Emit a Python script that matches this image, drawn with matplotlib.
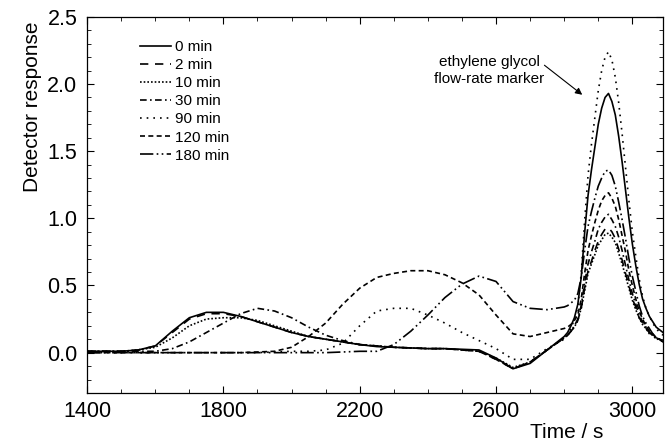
import numpy as np
import matplotlib
matplotlib.use("Agg")
import matplotlib.pyplot as plt
from matplotlib.ticker import MultipleLocator

plt.rcParams['font.family'] = ['Liberation Sans', 'DejaVu Sans']

# time grid: coarse before the marker peak, fine across it
time_s = np.concatenate([np.arange(1400, 2800, 50), np.arange(2800, 3100, 10)])

labels = ["0 min", "2 min", "10 min", "30 min", "90 min", "120 min", "180 min"]

r_0 = [0.01, 0.01, 0.01, 0.02, 0.05, 0.16, 0.26, 0.30, 0.30, 0.27, 0.23, 0.19, 0.15, 0.12,
       0.10, 0.08, 0.06, 0.045, 0.04, 0.035, 0.03, 0.03, 0.025, 0.02, -0.04, -0.12, -0.08, 0.02,
       0.12, 0.15, 0.20, 0.26, 0.36, 0.56, 0.89, 1.17, 1.36, 1.53, 1.70, 1.82, 1.90, 1.93, 1.87,
       1.77, 1.61, 1.42, 1.21, 1.00, 0.81, 0.65, 0.51, 0.40, 0.33, 0.27, 0.23, 0.19, 0.17, 0.15]
r_2 = [0.01, 0.01, 0.01, 0.02, 0.05, 0.15, 0.25, 0.29, 0.29, 0.27, 0.23, 0.19, 0.15, 0.12,
       0.10, 0.08, 0.06, 0.05, 0.04, 0.035, 0.03, 0.03, 0.02, 0.01, -0.05, -0.12, -0.07, 0.02,
       0.11, 0.13, 0.16, 0.19, 0.24, 0.33, 0.48, 0.61, 0.68, 0.76, 0.83, 0.88, 0.92, 0.93, 0.90,
       0.85, 0.77, 0.69, 0.59, 0.50, 0.40, 0.34, 0.26, 0.22, 0.18, 0.15, 0.13, 0.11, 0.10, 0.08]
r_10 = [0.01, 0.01, 0.01, 0.02, 0.04, 0.11, 0.20, 0.25, 0.26, 0.26, 0.24, 0.20, 0.16, 0.12,
        0.10, 0.08, 0.06, 0.05, 0.04, 0.035, 0.03, 0.03, 0.02, 0.01, -0.04, -0.11, -0.07, 0.02,
        0.11, 0.13, 0.16, 0.19, 0.24, 0.33, 0.46, 0.59, 0.66, 0.73, 0.80, 0.84, 0.88, 0.89, 0.86,
        0.82, 0.74, 0.66, 0.57, 0.48, 0.39, 0.32, 0.26, 0.21, 0.18, 0.14, 0.13, 0.10, 0.10, 0.08]
r_30 = [0.01, 0.01, 0.01, 0.01, 0.01, 0.03, 0.08, 0.15, 0.22, 0.29, 0.33, 0.31, 0.26, 0.19,
        0.13, 0.09, 0.06, 0.05, 0.04, 0.035, 0.03, 0.03, 0.02, 0.01, -0.05, -0.12, -0.07, 0.02,
        0.11, 0.13, 0.16, 0.20, 0.25, 0.35, 0.52, 0.66, 0.75, 0.83, 0.92, 0.97, 1.01, 1.03, 0.99,
        0.94, 0.86, 0.76, 0.65, 0.54, 0.44, 0.36, 0.28, 0.23, 0.19, 0.15, 0.13, 0.11, 0.10, 0.08]
r_90 = [0.0, 0.0, 0.0, 0.0, 0.0, 0.0, 0.0, 0.0, 0.0, 0.0, 0.0, 0.005, 0.01, 0.01,
        0.02, 0.07, 0.20, 0.31, 0.33, 0.33, 0.28, 0.22, 0.15, 0.09, 0.03, -0.05, -0.05, 0.03,
        0.10, 0.13, 0.18, 0.25, 0.34, 0.59, 0.98, 1.32, 1.55, 1.75, 1.95, 2.10, 2.20, 2.24, 2.18,
        2.05, 1.86, 1.63, 1.38, 1.13, 0.90, 0.72, 0.55, 0.42, 0.33, 0.27, 0.22, 0.18, 0.15, 0.13]
r_120 = [0.0, 0.0, 0.0, 0.0, 0.0, 0.0, 0.0, 0.0, 0.0, 0.0, 0.005, 0.01, 0.04, 0.12,
         0.22, 0.36, 0.48, 0.56, 0.59, 0.61, 0.61, 0.58, 0.52, 0.43, 0.28, 0.14, 0.12, 0.15,
         0.18, 0.19, 0.21, 0.24, 0.28, 0.40, 0.59, 0.76, 0.87, 0.97, 1.06, 1.13, 1.17, 1.19, 1.15,
         1.09, 0.99, 0.87, 0.75, 0.61, 0.50, 0.40, 0.31, 0.25, 0.20, 0.16, 0.14, 0.11, 0.10, 0.08]
r_180 = [0.0, 0.0, 0.0, 0.0, 0.0, 0.0, 0.0, 0.0, 0.0, 0.0, 0.0, 0.0, 0.0, 0.0,
         0.0, 0.005, 0.01, 0.01, 0.06, 0.16, 0.28, 0.41, 0.51, 0.57, 0.53, 0.38, 0.33, 0.32,
         0.34, 0.35, 0.37, 0.39, 0.44, 0.56, 0.76, 0.94, 1.05, 1.15, 1.24, 1.30, 1.35, 1.36, 1.32,
         1.24, 1.12, 0.99, 0.85, 0.70, 0.57, 0.46, 0.35, 0.27, 0.22, 0.18, 0.14, 0.11, 0.10, 0.08]

x_ticks = [1400, 1800, 2200, 2600, 3000]

series = [r_0, r_2, r_10, r_30, r_90, r_120, r_180]
dash_styles = ["-", (0, (5, 4)), (0, (1, 1.2)), (0, (4, 2, 1, 2)), (0, (1, 3)),
               (0, (3, 2)), (0, (8, 2, 1, 2, 1, 2))]

fig, ax = plt.subplots(figsize=(6.65, 4.44), dpi=100)
fig.subplots_adjust(left=0.131, right=0.997, bottom=0.115, top=0.962)

for lab, vals, ls in zip(labels, series, dash_styles):
    ax.plot(time_s, vals, color="black", lw=1.2, linestyle=ls, label=lab)

ax.set_xlim(1400, 3090)
ax.set_ylim(-0.3, 2.5)
ax.set_xticks(x_ticks)
ax.xaxis.set_minor_locator(MultipleLocator(100))
ax.yaxis.set_major_locator(MultipleLocator(0.5))
ax.yaxis.set_minor_locator(MultipleLocator(0.1))
ax.yaxis.set_major_formatter(matplotlib.ticker.FormatStrFormatter("%.1f"))
ax.tick_params(which="both", direction="in", top=True, right=True, labelsize=15.5)
ax.tick_params(which="major", length=5, width=0.8)
ax.tick_params(which="minor", length=3, width=0.6)
ax.tick_params(axis="y", pad=7)
ax.tick_params(axis="x", pad=6)
for sp in ax.spines.values():
    sp.set_linewidth(0.9)

ax.set_xlabel("Time / s", fontsize=15)
ax.xaxis.set_label_coords(0.832, -0.08)
ax.set_ylabel("Detector response", fontsize=15)
ax.yaxis.set_label_coords(-0.078, 0.76)

ax.legend(loc="upper left", bbox_to_anchor=(0.082, 0.955), frameon=False, fontsize=11,
          handlelength=2.0, handletextpad=0.25, labelspacing=0.27, borderaxespad=0,
          borderpad=0.4)

ax.text(2580, 2.10, "ethylene glycol\nflow-rate marker", ha="center", va="center",
        fontsize=11, linespacing=1.25)
ax.annotate("", xy=(2853, 1.92), xytext=(2742, 2.14),
            arrowprops=dict(arrowstyle="-|>", color="black", lw=0.8, mutation_scale=10,
                            shrinkA=0, shrinkB=0))

plt.savefig("out.png", dpi=100)
